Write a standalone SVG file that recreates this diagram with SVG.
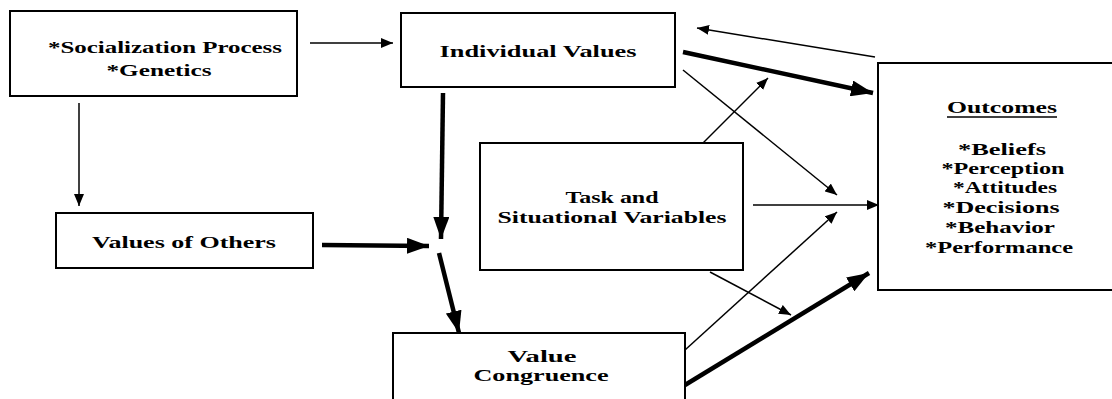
<svg xmlns="http://www.w3.org/2000/svg" width="1112" height="399" viewBox="0 0 1112 399">
<defs>
<style>
.box{fill:#fff;stroke:#000;stroke-width:2}
.t{font-family:"Liberation Serif","Times New Roman",serif;font-weight:bold;font-size:17px;fill:#000;text-anchor:middle}
.thin{stroke:#000;stroke-width:1.5;fill:none;marker-end:url(#ah)}
.thick{stroke:#000;stroke-width:4.5;fill:none;marker-end:url(#ahb)}
</style>
<marker id="ah" markerUnits="userSpaceOnUse" markerWidth="12" markerHeight="10" viewBox="0 0 12 10" refX="12" refY="5" orient="auto">
<path d="M0,0 L12,5 L0,10 Z" fill="#000"/>
</marker>
<marker id="ahb" markerUnits="userSpaceOnUse" markerWidth="22" markerHeight="16" viewBox="0 0 22 16" refX="22" refY="8" orient="auto">
<path d="M0,0 L22,8 L0,16 Z" fill="#000"/>
</marker>
</defs>
<rect width="1112" height="399" fill="#fff"/>
<g id="connectors">
<line class="thin" x1="310" y1="43" x2="393" y2="43"/>
<line class="thin" x1="79" y1="103" x2="79" y2="206"/>
<line class="thin" x1="875" y1="57" x2="697" y2="28"/>
<line class="thick" x1="683" y1="52" x2="873" y2="93"/>
<line class="thin" x1="683" y1="70" x2="837" y2="195"/>
<line class="thin" x1="703" y1="143" x2="768" y2="78"/>
<line class="thin" x1="753" y1="205" x2="879" y2="205"/>
<line class="thin" x1="685" y1="350" x2="837" y2="212"/>
<line class="thin" x1="710" y1="272" x2="791" y2="315"/>
<line class="thick" x1="685" y1="385" x2="869" y2="273"/>
<line class="thick" x1="322" y1="245" x2="429" y2="246"/>
<line class="thick" x1="443" y1="93" x2="441" y2="239"/>
<line class="thick" x1="439" y1="253" x2="459" y2="333"/>
</g>
<g id="socialization">
<rect class="box" x="10" y="11" width="287" height="85"/>
<text class="t" x="165" y="53" textLength="234" lengthAdjust="spacingAndGlyphs">*Socialization Process</text>
<text class="t" x="159" y="76" textLength="105" lengthAdjust="spacingAndGlyphs">*Genetics</text>
</g>
<g id="individual-values">
<rect class="box" x="401" y="13" width="274" height="74"/>
<text class="t" x="538" y="57" textLength="197" lengthAdjust="spacingAndGlyphs">Individual Values</text>
</g>
<g id="values-of-others">
<rect class="box" x="56" y="213" width="257" height="55"/>
<text class="t" x="184" y="248" textLength="184" lengthAdjust="spacingAndGlyphs">Values of Others</text>
</g>
<g id="task">
<rect class="box" x="480" y="143" width="263" height="127"/>
<text class="t" x="612" y="203" textLength="93" lengthAdjust="spacingAndGlyphs">Task and</text>
<text class="t" x="612" y="223" textLength="229" lengthAdjust="spacingAndGlyphs">Situational Variables</text>
</g>
<g id="value-congruence">
<rect class="box" x="393" y="333" width="292" height="75"/>
<text class="t" x="542" y="362" textLength="69" lengthAdjust="spacingAndGlyphs">Value</text>
<text class="t" x="541" y="381" textLength="135" lengthAdjust="spacingAndGlyphs">Congruence</text>
</g>
<g id="outcomes">
<rect class="box" x="878" y="63" width="260" height="227"/>
<text class="t" x="1002" y="113" textLength="110" lengthAdjust="spacingAndGlyphs">Outcomes</text>
<line x1="947" y1="117" x2="1057" y2="117" stroke="#000" stroke-width="1.5"/>
<text class="t" x="1002" y="155" textLength="88" lengthAdjust="spacingAndGlyphs">*Beliefs</text>
<text class="t" x="1003" y="174" textLength="123" lengthAdjust="spacingAndGlyphs">*Perception</text>
<text class="t" x="1005" y="193" textLength="104" lengthAdjust="spacingAndGlyphs">*Attitudes</text>
<text class="t" x="1001" y="213" textLength="117" lengthAdjust="spacingAndGlyphs">*Decisions</text>
<text class="t" x="1000" y="233" textLength="110" lengthAdjust="spacingAndGlyphs">*Behavior</text>
<text class="t" x="999" y="253" textLength="148" lengthAdjust="spacingAndGlyphs">*Performance</text>
</g>
</svg>
